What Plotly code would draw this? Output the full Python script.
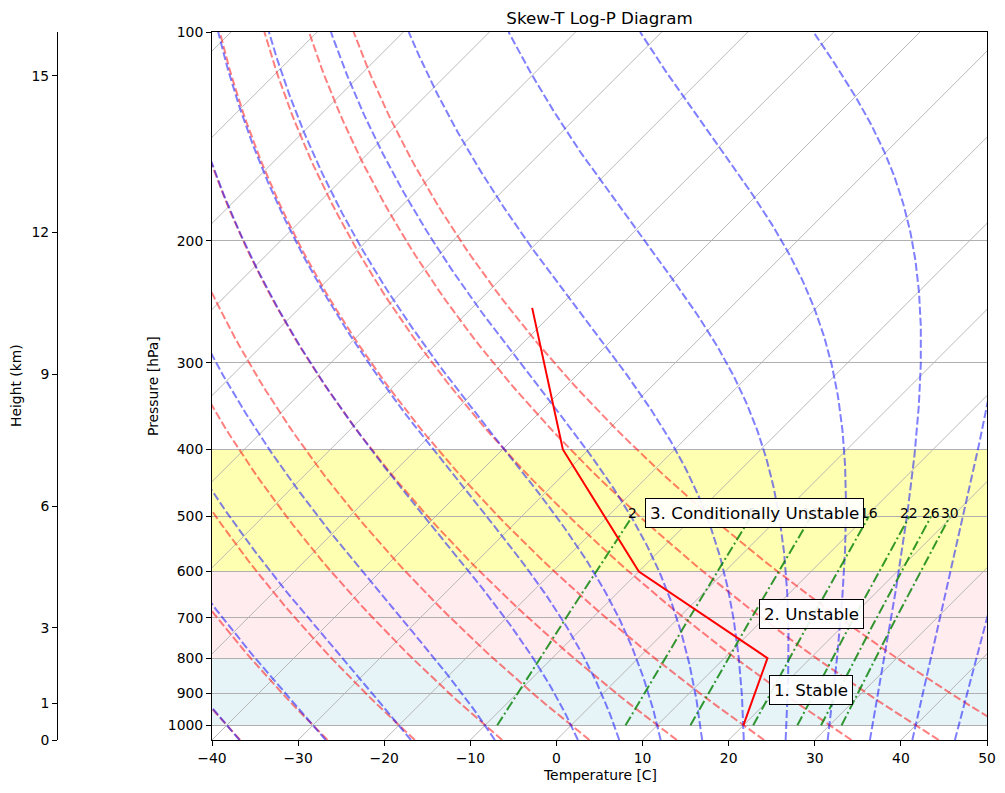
import numpy as np
import plotly.graph_objects as go

# --- data ---
profile_p = [1000, 800, 600, 400, 250]        # hPa
profile_t = [20, 15, -10, -33, -53]           # degC

dry_t0 = [-40, -30, -20, -10, 0, 10, 20, 30, 40, 50]
moist_t0 = [-40, -30, -20, -10, 0, 5, 10, 15, 20, 25, 30, 35, 40, 45, 50]
mixing_ratios = [2, 6, 10, 16, 22, 26, 30]   # g/kg
mixing_p_bottom, mixing_p_top = 1000, 500

temp_ticks = [-40, -30, -20, -10, 0, 10, 20, 30, 40, 50]
pressure_ticks = [100, 200, 300, 400, 500, 600, 700, 800, 900, 1000]
isotherm_t = list(range(-130, 51, 10))

height_km = [0, 1, 3, 6, 9, 12, 15]
height_p = [1050, 930, 723, 483, 312, 194.5, 115.7]

layer_names = ["1. Stable", "2. Unstable", "3. Conditionally Unstable"]
layer_bottom = [1000, 800, 600]
layer_top = [800, 600, 400]
layer_colors = ["rgba(173,216,230,0.3)", "rgba(255,192,203,0.3)", "rgba(255,255,0,0.3)"]
label_t = [20, 10, -15]
label_p = [900, 700, 500]

# --- geometry (page body adds an 8 px offset, so work in shifted pixels) ---
OFF = 8
W, H = 1005 - OFF, 793 - OFF
PL, PR, PT, PB = 212 - OFF, 987 - OFF, 32 - OFF, 740 - OFF
P_BOT, P_TOP = 1050, 100
T_MIN, T_MAX = -40, 50
SKEW = ((PB - PT) / np.log10(P_BOT / P_TOP)) / ((PR - PL) / (T_MAX - T_MIN))


def skew_x(t, p):
    return np.asarray(t, dtype=float) + SKEW * np.log10(P_BOT / np.asarray(p, dtype=float))


# thermodynamics (same constants as MetPy)
Rd, Cp, Lv, eps = 287.04749, 1004.6662, 2.50084e6, 0.6219569


def sat_mr(p, tk):
    es = 6.112 * np.exp(17.67 * (tk - 273.15) / (tk - 29.65))
    return eps * es / (p - es)


def dt_dlnp(p, tk):
    rs = sat_mr(p, tk)
    return (Rd * tk + Lv * rs) / (Cp + Lv * Lv * rs * eps / (Rd * tk * tk))


def moist_lines(t0c, pres):
    tk = np.array(t0c, dtype=float) + 273.15
    out = [tk.copy()]
    for p0, p1 in zip(pres[:-1], pres[1:]):
        h = np.log(p1) - np.log(p0)
        pm = np.exp(np.log(p0) + h / 2)
        k1 = dt_dlnp(p0, tk)
        k2 = dt_dlnp(pm, tk + h * k1 / 2)
        k3 = dt_dlnp(pm, tk + h * k2 / 2)
        k4 = dt_dlnp(p1, tk + h * k3)
        tk = tk + h * (k1 + 2 * k2 + 2 * k3 + k4) / 6
        out.append(tk.copy())
    return np.array(out) - 273.15


def join(xs, ys):
    X, Y = [], []
    for x, y in zip(xs, ys):
        X += list(x) + [None]
        Y += list(y) + [None]
    return X, Y


fig = go.Figure()

# isotherms (skewed x grid)
iso_x, iso_y = join([skew_x([t, t], [P_BOT, P_TOP]) for t in isotherm_t],
                    [[P_BOT, P_TOP]] * len(isotherm_t))
fig.add_trace(go.Scatter(x=iso_x, y=iso_y, mode="lines",
                         line=dict(color="#b0b0b0", width=0.9), hoverinfo="skip"))

# dry adiabats
pp = np.geomspace(P_BOT, P_TOP, 80)
dry = [(t0 + 273.15) * (pp / 1000.0) ** (Rd / Cp) - 273.15 for t0 in dry_t0]
dx, dy = join([skew_x(t, pp) for t in dry], [pp] * len(dry))
fig.add_trace(go.Scatter(x=dx, y=dy, mode="lines", hoverinfo="skip",
                         line=dict(color="rgba(255,0,0,0.5)", width=2, dash="8px,3px")))

# moist adiabats
p_up = np.geomspace(1000, P_TOP, 200)
p_dn = np.geomspace(1000, P_BOT, 10)
m_up = moist_lines(moist_t0, p_up)
m_dn = moist_lines(moist_t0, p_dn)
p_all = np.concatenate([p_dn[::-1], p_up[1:]])
moist = [np.concatenate([m_dn[::-1, i], m_up[1:, i]]) for i in range(len(moist_t0))]
mx, my = join([skew_x(t, p_all) for t in moist], [p_all] * len(moist))
fig.add_trace(go.Scatter(x=mx, y=my, mode="lines", hoverinfo="skip",
                         line=dict(color="rgba(0,0,255,0.5)", width=2, dash="8px,3px")))

# mixing ratio lines
pm = np.geomspace(mixing_p_bottom, mixing_p_top, 30)
mix_lines, mix_tops = [], []
for w in mixing_ratios:
    e = pm * (w / 1000.0) / (eps + w / 1000.0)
    a = np.log(e / 6.112)
    td = 243.5 * a / (17.67 - a)
    mix_lines.append(td)
    mix_tops.append(skew_x(td[-1], pm[-1]))
gx, gy = join([skew_x(t, pm) for t in mix_lines], [pm] * len(mix_lines))
fig.add_trace(go.Scatter(x=gx, y=gy, mode="lines", hoverinfo="skip",
                         line=dict(color="rgba(0,128,0,0.8)", width=2, dash="10px,3px,2px,3px")))

# temperature profile
fig.add_trace(go.Scatter(x=skew_x(profile_t, profile_p), y=profile_p, mode="lines",
                         line=dict(color="red", width=2), hoverinfo="skip"))

# dummy trace for the height axis
fig.add_trace(go.Scatter(x=[0], y=[500], yaxis="y2", mode="markers",
                         marker=dict(opacity=0), hoverinfo="skip"))

# stability layers
for lo, hi, c in zip(layer_bottom, layer_top, layer_colors):
    fig.add_shape(type="rect", xref="paper", yref="y", x0=PL / PR, x1=1, y0=lo, y1=hi,
                  fillcolor=c, line=dict(width=0), layer="below")

annotations = []
for w, x in zip(mixing_ratios, mix_tops):
    annotations.append(dict(x=float(x), y=np.log10(mixing_p_top), text=str(w), showarrow=False,
                            xanchor="center", yanchor="middle", yshift=4,
                            font=dict(size=13.9, color="black")))
for name, t, p in zip(layer_names, label_t, label_p):
    annotations.append(dict(x=float(skew_x(t, p)), y=np.log10(p), text=name, showarrow=False,
                            xanchor="left", yanchor="middle", xshift=-6, yshift=4,
                            font=dict(size=16.7, color="black"), bgcolor="rgba(255,255,255,0.9)",
                            bordercolor="black", borderwidth=1, borderpad=4))

plot_w = PR
annotations += [
    dict(text="Temperature [C]", xref="paper", yref="paper", x=(PL + PR) / 2 / plot_w,
         y=-(775 - OFF - PB) / (PB - PT), xanchor="center", yanchor="middle",
         showarrow=False, font=dict(size=13.9)),
    dict(text="Pressure [hPa]", xref="paper", yref="paper", x=(153 - OFF) / plot_w, y=0.5,
         xanchor="center", yanchor="middle", textangle=-90, showarrow=False,
         font=dict(size=13.9)),
    dict(text="Height (km)", xref="paper", yref="paper", x=(16 - OFF) / plot_w, y=0.5,
         xanchor="center", yanchor="middle", textangle=-90, showarrow=False,
         font=dict(size=13.9)),
]

fig.update_layout(
    width=W, height=H,
    margin=dict(l=0, r=W - PR, t=PT, b=H - PB, autoexpand=False),
    plot_bgcolor="white", paper_bgcolor="white",
    showlegend=False,
    font=dict(family="DejaVu Sans", size=13.9, color="black"),
    title=dict(text="Skew-T Log-P Diagram", x=(PL + PR) / 2 / plot_w, xref="paper",
               xanchor="center", y=1 - (18 - OFF) / H, yanchor="middle", font=dict(size=16.7)),
    xaxis=dict(domain=[PL / plot_w, 1], range=[T_MIN, T_MAX], tickvals=temp_ticks,
               ticktext=[str(t).replace("-", "\u2212") for t in temp_ticks],
               showgrid=False, zeroline=False, showline=True, linecolor="black",
               linewidth=1, mirror=True, ticks="outside", ticklen=5, tickcolor="black",
               automargin=False),
    yaxis=dict(type="log", range=[np.log10(P_BOT), np.log10(P_TOP)], tickvals=pressure_ticks,
               ticktext=[str(p) for p in pressure_ticks], showgrid=True, gridcolor="#b0b0b0",
               gridwidth=1, zeroline=False, showline=True, linecolor="black", linewidth=1,
               mirror=True, ticks="outside", ticklen=5, tickcolor="black", automargin=False),
    yaxis2=dict(type="log", range=[np.log10(P_BOT), np.log10(P_TOP)], overlaying="y",
                anchor="free", position=(57 - OFF) / plot_w, side="left", tickvals=height_p,
                ticktext=[str(h) for h in height_km], showgrid=False, zeroline=False,
                showline=True, linecolor="black", linewidth=1, ticks="outside",
                ticklen=5, tickcolor="black", automargin=False),
    annotations=annotations,
)

fig.write_html("out.html")
